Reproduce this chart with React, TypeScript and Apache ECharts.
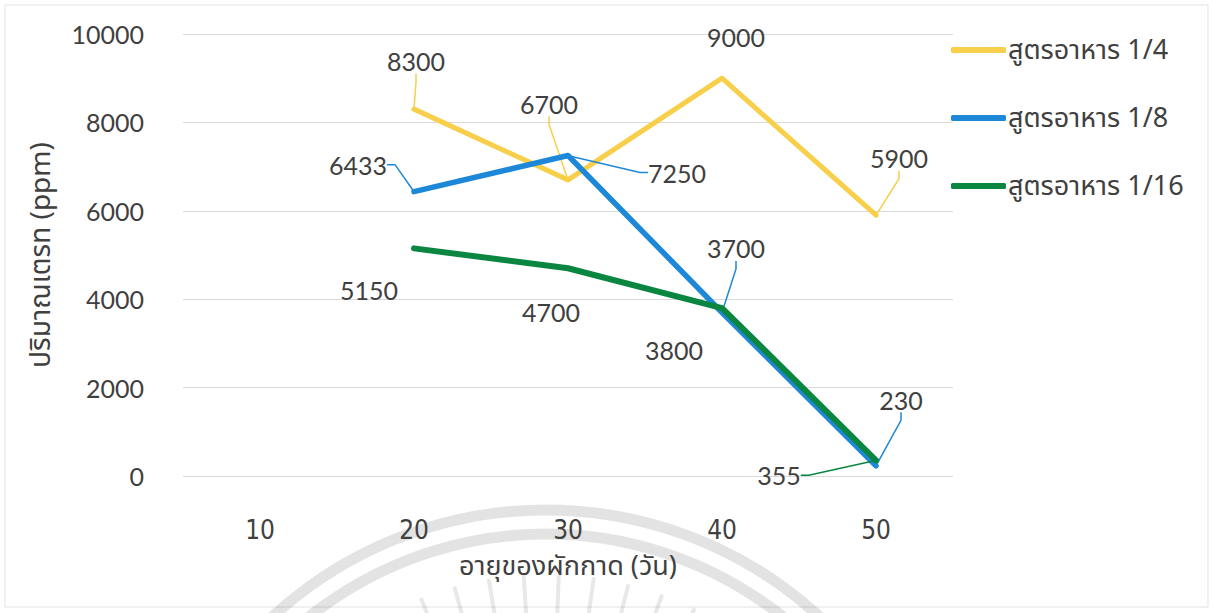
import React, { useEffect, useRef } from "react";
import * as echarts from "echarts";

const categories = ["10", "20", "30", "40", "50"];
const formula4 = [null, 8300, 6700, 9000, 5900];
const formula8 = [null, 6433, 7250, 3700, 230];
const formula16 = [null, 5150, 4700, 3800, 355];
const seriesNames = ["สูตรอาหาร 1/4", "สูตรอาหาร 1/8", "สูตรอาหาร 1/16"];
const yTicks = [0, 2000, 4000, 6000, 8000, 10000];

// label placement (pixel offsets of label centre from its point) – style only
const labelOffsets: number[][][] = [
  [[0, 0], [2, -48], [-19, -76], [14, -41], [23, -57]],
  [[0, 0], [-56, -27], [109, 17], [14, -64], [25, -66]],
  [[0, 0], [-45, 42], [-17, 44], [-48, 42], [-97, 15]],
];
const showLeader: boolean[][] = [
  [false, true, true, false, true],
  [false, true, true, true, true],
  [false, false, false, false, true],
];

const colors = ["#F8CF4A", "#1E88D8", "#0B8640"];
const numFont = "Lato, 'Noto Sans', sans-serif";
const thaiFont = "'Noto Sans Thai', 'Noto Sans', 'DejaVu Sans', sans-serif";

export default function App() {
  const ref = useRef<HTMLDivElement>(null);
  useEffect(() => {
    document.body.style.margin = "0";
    const chart = echarts.init(ref.current!, undefined, { renderer: "svg" });
    const datasets = [formula4, formula8, formula16];
    const widths = [5, 5.5, 6];
    const cx = 546, cy = 914;
    const rays: any[] = [];
    for (let i = 0; i < 9; i++) {
      const a = Math.PI * (1.38 + i * 0.033);
      rays.push({
        type: "line",
        silent: true,
        z: -10,
        shape: {
          x1: cx + Math.cos(a) * 290,
          y1: cy + Math.sin(a) * 290,
          x2: cx + Math.cos(a) * 340,
          y2: cy + Math.sin(a) * 340,
        },
        style: { stroke: "rgba(0,0,0,0.09)", lineWidth: 4 },
      });
    }
    chart.setOption({
      animation: false,
      backgroundColor: "#ffffff",
      graphic: [
        {
          type: "rect",
          silent: true,
          z: -20,
          shape: { x: 5, y: 5, width: 1203, height: 602 },
          style: { fill: "none", stroke: "#e2e2e2", lineWidth: 1 },
        },
        {
          type: "arc",
          silent: true,
          z: -10,
          shape: { cx, cy, r: 404, startAngle: Math.PI * 1.1, endAngle: Math.PI * 1.9 },
          style: { fill: "none", stroke: "rgba(0,0,0,0.11)", lineWidth: 11 },
        },
        {
          type: "arc",
          silent: true,
          z: -10,
          shape: { cx, cy, r: 380, startAngle: Math.PI * 1.1, endAngle: Math.PI * 1.9 },
          style: { fill: "none", stroke: "rgba(0,0,0,0.11)", lineWidth: 11 },
        },
        ...rays,
      ],
      legend: {
        orient: "vertical",
        left: 946,
        top: 30,
        itemWidth: 55,
        itemHeight: 6,
        itemGap: 38,
        icon: "roundRect",
        data: seriesNames,
        textStyle: {
          fontFamily: thaiFont,
          fontSize: 27,
          color: "#404040",
          lineHeight: 30,
          padding: [0, 0, 0, -3],
        },
      },
      grid: { left: 183, right: 260, top: 34, bottom: 137, containLabel: false },
      xAxis: {
        type: "category",
        data: categories,
        boundaryGap: true,
        axisLine: { show: false },
        axisTick: { show: false },
        axisLabel: {
          margin: 41,
          fontFamily: "'Liberation Sans Narrow', 'DejaVu Sans Condensed', sans-serif",
          fontSize: 26,
          color: "#404040",
        },
        name: "อายุของผักกาด (วัน)",
        nameLocation: "middle",
        nameGap: 77,
        nameTextStyle: { fontFamily: thaiFont, fontSize: 27, color: "#404040" },
      },
      yAxis: {
        type: "value",
        min: 0,
        max: 10000,
        interval: 2000,
        axisLine: { show: false },
        axisTick: { show: false },
        splitLine: { lineStyle: { color: "#d9d9d9", width: 1 } },
        axisLabel: {
          margin: 39,
          fontFamily: numFont,
          fontSize: 25,
          color: "#404040",
          formatter: (v: number) => (yTicks.includes(v) ? String(v) : ""),
        },
        name: "ปริมาณเตรท (ppm)",
        nameLocation: "middle",
        nameGap: 128,
        nameTextStyle: { fontFamily: thaiFont, fontSize: 28, color: "#404040" },
      },
      series: datasets.map((d, si) => ({
        name: seriesNames[si],
        type: "line",
        data: d.map((v, di) => ({
          value: v,
          labelLine: { show: showLeader[si][di] },
        })),
        symbol: "circle",
        symbolSize: 1,
        showSymbol: true,
        connectNulls: false,
        z: 2 + si,
        lineStyle: { color: colors[si], width: widths[si], cap: "round", join: "round" },
        itemStyle: { color: colors[si] },
        label: {
          show: true,
          position: "inside",
          fontFamily: numFont,
          fontSize: 25,
          color: "#404040",
        },
        labelLine: {
          show: true,
          length2: 8,
          lineStyle: { color: colors[si], width: 1.5 },
        },
        labelLayout: (params: any) => {
          const off = labelOffsets[si][params.dataIndex] || [0, 0];
          const r = params.rect;
          const px = r.x + r.width / 2;
          const py = r.y + r.height / 2;
          return {
            x: px + off[0],
            y: py + off[1],
            align: "center",
            verticalAlign: "middle",
          };
        },
      })),
    });
    return () => chart.dispose();
  }, []);
  return <div ref={ref} style={{ width: 1213, height: 613 }} />;
}
